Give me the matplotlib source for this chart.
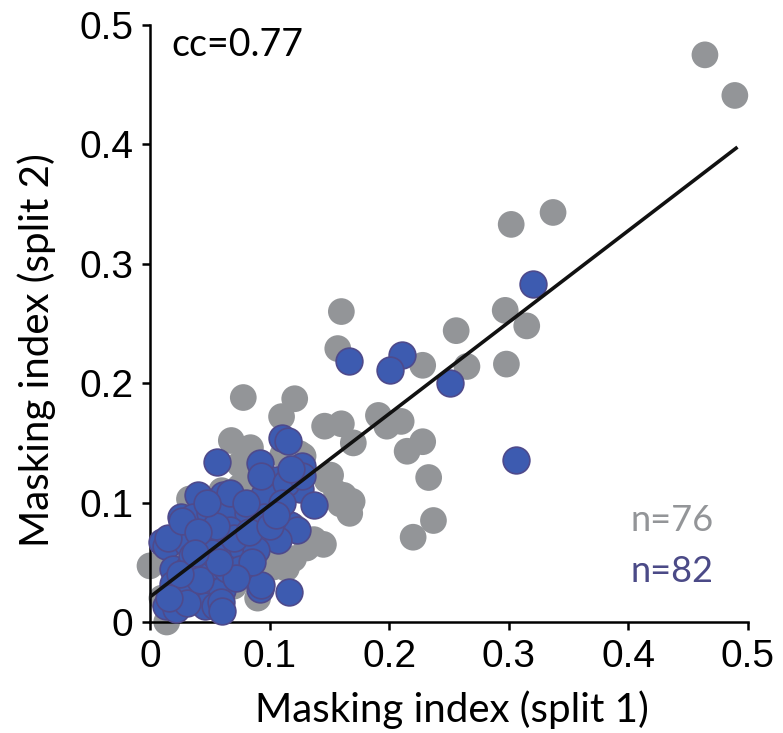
import matplotlib

matplotlib.use("Agg")
import matplotlib.pyplot as plt
import numpy as np

# split-half masking index, grey population (n=76)
gray_x = [0.464, 0.489, 0.337, 0.302, 0.160, 0.157, 0.256, 0.297, 0.315, 0.228,
          0.265, 0.298, 0.191, 0.210, 0.198, 0.146, 0.160, 0.170, 0.228, 0.215,
          0.233, 0.151, 0.121, 0.237, 0.220, 0.078, 0.110, 0.111, 0.128, 0.148,
          0.162, 0.169, 0.068, 0.084, 0.075, 0.078, 0.033, 0.000, 0.014, 0.058,
          0.075, 0.131, 0.114, 0.137, 0.100, 0.064, 0.145, 0.167, 0.159, 0.120,
          0.125, 0.156, 0.103, 0.020, 0.030, 0.040, 0.050, 0.060, 0.070, 0.080,
          0.090, 0.100, 0.110, 0.030, 0.050, 0.070, 0.090, 0.020, 0.040, 0.060,
          0.080, 0.100, 0.120, 0.010, 0.050, 0.085]
gray_y = [0.475, 0.441, 0.343, 0.333, 0.260, 0.229, 0.244, 0.261, 0.248, 0.215,
          0.214, 0.216, 0.173, 0.168, 0.164, 0.164, 0.166, 0.150, 0.151, 0.143,
          0.121, 0.123, 0.187, 0.085, 0.071, 0.188, 0.172, 0.140, 0.139, 0.119,
          0.106, 0.101, 0.152, 0.146, 0.132, 0.109, 0.103, 0.047, 0.000, 0.083,
          0.113, 0.062, 0.045, 0.069, 0.046, 0.028, 0.065, 0.091, 0.099, 0.053,
          0.141, 0.108, 0.046, 0.030, 0.060, 0.020, 0.050, 0.070, 0.090, 0.050,
          0.070, 0.090, 0.100, 0.080, 0.100, 0.030, 0.020, 0.050, 0.040, 0.110,
          0.120, 0.060, 0.080, 0.020, 0.015, 0.095]

# blue population (n=82)
blue_x = [0.320, 0.166, 0.211, 0.201, 0.251, 0.306, 0.127, 0.110, 0.115, 0.092,
          0.105, 0.120, 0.125, 0.102, 0.137, 0.056, 0.040, 0.061, 0.095, 0.026,
          0.036, 0.050, 0.064, 0.010, 0.013, 0.031, 0.045, 0.060, 0.019, 0.033,
          0.047, 0.061, 0.019, 0.028, 0.050, 0.060, 0.013, 0.022, 0.046, 0.054,
          0.031, 0.093, 0.067, 0.114, 0.127, 0.082, 0.095, 0.117, 0.123, 0.067,
          0.107, 0.064, 0.078, 0.089, 0.064, 0.075, 0.092, 0.116, 0.059, 0.060,
          0.093, 0.015, 0.027, 0.035, 0.042, 0.052, 0.070, 0.083, 0.100, 0.085,
          0.072, 0.055, 0.040, 0.110, 0.118, 0.058, 0.025, 0.048, 0.016, 0.038,
          0.105, 0.080]
blue_y = [0.283, 0.219, 0.224, 0.211, 0.200, 0.136, 0.131, 0.154, 0.152, 0.133,
          0.119, 0.118, 0.111, 0.106, 0.098, 0.134, 0.106, 0.106, 0.106, 0.088,
          0.088, 0.091, 0.095, 0.067, 0.064, 0.066, 0.074, 0.063, 0.044, 0.046,
          0.046, 0.044, 0.032, 0.027, 0.023, 0.027, 0.013, 0.011, 0.013, 0.013,
          0.016, 0.122, 0.108, 0.116, 0.122, 0.091, 0.088, 0.081, 0.077, 0.077,
          0.069, 0.058, 0.060, 0.060, 0.044, 0.044, 0.028, 0.025, 0.017, 0.009,
          0.031, 0.070, 0.085, 0.055, 0.035, 0.058, 0.070, 0.075, 0.080, 0.050,
          0.037, 0.080, 0.075, 0.100, 0.128, 0.050, 0.040, 0.100, 0.020, 0.058,
          0.090, 0.100]

# regression line
fit_intercept = 0.021
fit_slope = 0.767
fit_x = [0.0, 0.49]

ticks = [0, 0.1, 0.2, 0.3, 0.4, 0.5]
tick_labels = ["0", "0.1", "0.2", "0.3", "0.4", "0.5"]

GRAY = "#939598"
BLUE = "#3d5bb0"
BLUE_EDGE = "#4e4a8c"

fig = plt.figure(figsize=(7.83, 7.33), dpi=100)
ax = fig.add_axes([150 / 783, 1 - 622 / 733, 598 / 783, 597 / 733])

ax.scatter(gray_x, gray_y, s=370, color=GRAY, edgecolors="none", clip_on=False, zorder=2)
ax.scatter(blue_x, blue_y, s=370, color=BLUE, edgecolors=BLUE_EDGE, linewidths=1.2, clip_on=False, zorder=3)
fx = np.array(fit_x)
ax.plot(fx, fit_intercept + fit_slope * fx, color="#111111", lw=2.6, zorder=4)

ax.set_xlim(0, 0.5)
ax.set_ylim(0, 0.5)
ax.set_xticks(ticks)
ax.set_xticklabels(tick_labels)
ax.set_yticks(ticks)
ax.set_yticklabels(tick_labels)
for side in ("top", "right"):
    ax.spines[side].set_visible(False)
for side in ("left", "bottom"):
    ax.spines[side].set_linewidth(1.8)
ax.tick_params(direction="out", length=6, width=1.8, labelsize=28, pad=6)
for lab in ax.get_xticklabels() + ax.get_yticklabels():
    lab.set_family("Liberation Sans")

ax.set_xlabel("Masking index (split 1)", fontsize=29, family="Lato")
ax.set_ylabel("Masking index (split 2)", fontsize=29, family="Lato")
ax.xaxis.set_label_coords(0.505, -0.115)
ax.yaxis.set_label_coords(-0.158, 0.455)

ax.text(0.018, 0.483, "cc=0.77", fontsize=27, family="Lato", ha="left", va="center")
ax.text(0.402, 0.085, "n=76", fontsize=26, family="Lato", color=GRAY, ha="left", va="center")
ax.text(0.402, 0.042, "n=82", fontsize=26, family="Lato", color="#4b4a87", ha="left", va="center")

fig.savefig("out.png", dpi=100)
